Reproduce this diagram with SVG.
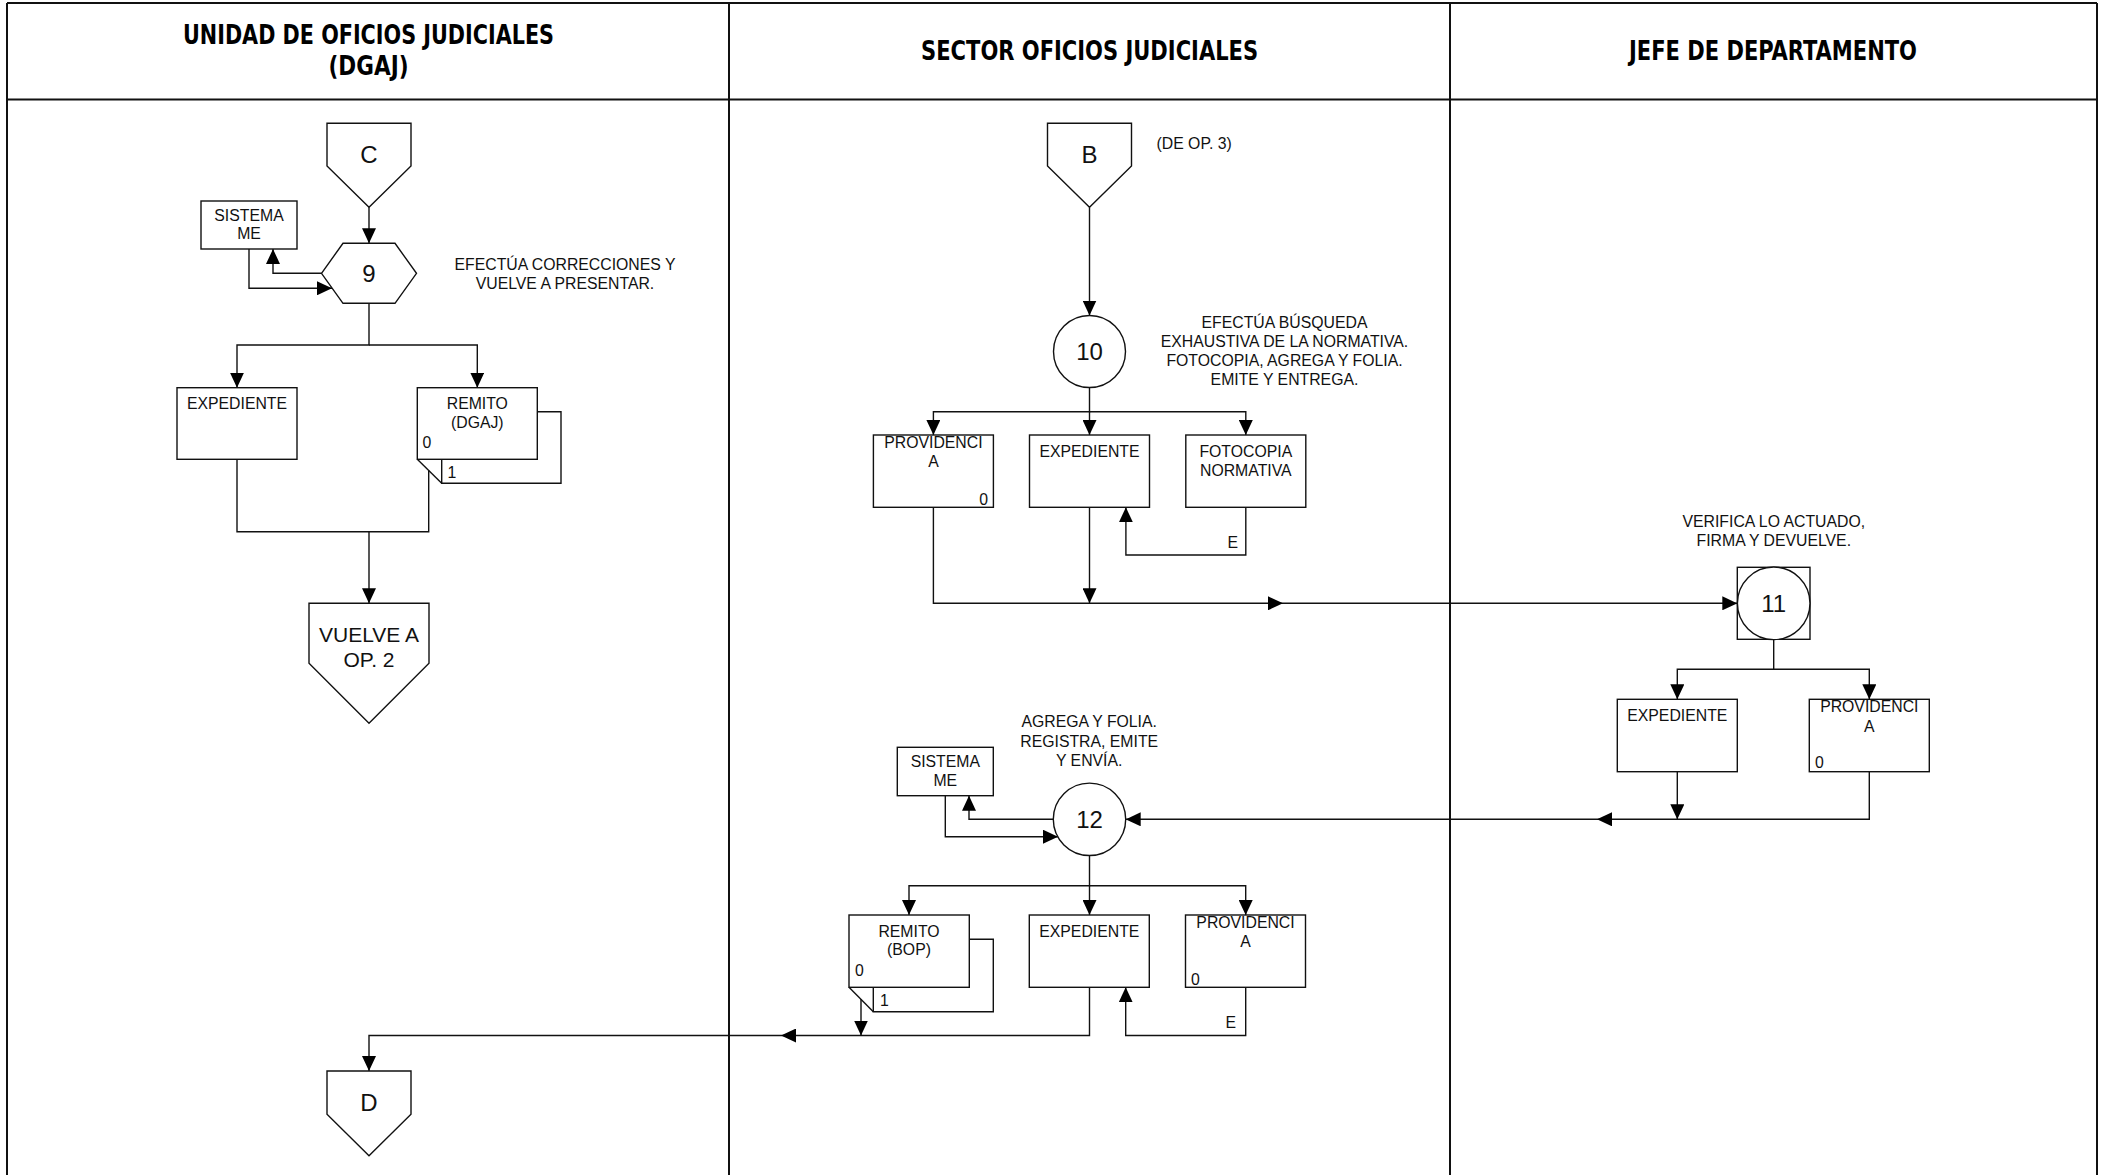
<svg xmlns="http://www.w3.org/2000/svg" width="2109" height="1175" viewBox="0 0 2109 1175">
<style>
.frame{fill:none;stroke:#111;stroke-width:2}
.sh{fill:#fff;stroke:#111;stroke-width:1.4}
.ln{fill:none;stroke:#111;stroke-width:1.4}
.arr{fill:none;stroke:#111;stroke-width:1.4;marker-end:url(#ah)}
.hd{font-family:'Liberation Sans Narrow','DejaVu Sans Condensed','Liberation Sans',sans-serif;font-weight:bold;font-size:27px;text-anchor:middle;fill:#000}
.t{font-family:'Liberation Sans',Arial,sans-serif;font-size:15.8px;text-anchor:middle;fill:#111}
.ts{font-family:'Liberation Sans',Arial,sans-serif;font-size:15.8px;fill:#111}
.te{font-family:'Liberation Sans',Arial,sans-serif;font-size:15.8px;text-anchor:end;fill:#111}
.big{font-family:'Liberation Sans',Arial,sans-serif;font-size:24px;text-anchor:middle;fill:#111}
.mid{font-family:'Liberation Sans',Arial,sans-serif;font-size:21px;text-anchor:middle;fill:#111}
</style>
<defs>
<marker id="ah" markerUnits="userSpaceOnUse" markerWidth="15" markerHeight="14" refX="15" refY="7" orient="auto">
<path d="M0,0 L15,7 L0,14 z" fill="#000"/>
</marker>
</defs>
<rect x="0" y="0" width="2109" height="1175" fill="#fff"/>
<g id="frame">
<line class="frame" x1="7" y1="3" x2="2097" y2="3"/>
<line class="frame" x1="7" y1="3" x2="7" y2="1175"/>
<line class="frame" x1="2097" y1="3" x2="2097" y2="1175"/>
<line class="frame" x1="729" y1="3" x2="729" y2="1175"/>
<line class="frame" x1="1450" y1="3" x2="1450" y2="1175"/>
<line class="frame" x1="7" y1="99.5" x2="2097" y2="99.5"/>
<text class="hd" x="368.5" y="44" textLength="371" lengthAdjust="spacingAndGlyphs">UNIDAD DE OFICIOS JUDICIALES</text>
<text class="hd" x="368.5" y="75" textLength="80" lengthAdjust="spacingAndGlyphs">(DGAJ)</text>
<text class="hd" x="1089.6" y="60" textLength="337" lengthAdjust="spacingAndGlyphs">SECTOR OFICIOS JUDICIALES</text>
<text class="hd" x="1773" y="60" textLength="288" lengthAdjust="spacingAndGlyphs">JEFE DE DEPARTAMENTO</text>
</g>
<g id="connectors">
<path class="arr" d="M369,207.3 V243.3"/>
<path class="arr" d="M321.5,273.3 H273 V249"/>
<path class="arr" d="M249,249 V288.3 H332"/>
<path class="arr" d="M369,303.3 V345 H237 V387.7"/>
<path class="arr" d="M369,345 H477.3 V387.7"/>
<path class="ln" d="M237,459.3 V531.7 H428.7 V470.5"/>
<path class="arr" d="M369,531.7 V603.3"/>
<path class="arr" d="M1089.5,207.3 V315.5"/>
<path class="arr" d="M1089.5,387.5 V411.7 H933.4 V435"/>
<path class="arr" d="M1089.5,411.7 V435"/>
<path class="arr" d="M1089.5,411.7 H1245.8 V435"/>
<path class="arr" d="M1245.8,507.3 V555 H1125.9 V507.3"/>
<path class="arr" d="M1089.5,507.3 V603.3"/>
<path class="arr" d="M933.4,507.3 V603.3 H1283"/>
<path class="arr" d="M1283,603.3 H1737.3"/>
<path class="arr" d="M1773.7,639.3 V669.3 H1677.3 V699.3"/>
<path class="arr" d="M1773.7,669.3 H1869.3 V699.3"/>
<path class="arr" d="M1677.3,771.7 V819.3"/>
<path class="arr" d="M1869.3,771.7 V819.3 H1597"/>
<path class="arr" d="M1597,819.3 H1125.7"/>
<path class="arr" d="M1053.3,819.3 H969 V795.7"/>
<path class="arr" d="M945.3,795.7 V836.7 H1058"/>
<path class="arr" d="M1089.5,855.5 V885.7 H909 V915"/>
<path class="arr" d="M1089.5,885.7 V915"/>
<path class="arr" d="M1089.5,885.7 H1245.7 V915"/>
<path class="arr" d="M1245.7,987.3 V1035.5 H1125.7 V987.3"/>
<path class="arr" d="M1089.5,987.3 V1035.5 H781"/>
<path class="arr" d="M781,1035.5 H369 V1071"/>
<path class="arr" d="M861,999.3 V1035.5"/>
</g>
<g id="conn-C">
<polygon class="sh" points="327,123.3 411,123.3 411,166 369,207.3 327,166"/>
<text class="big" x="369" y="163">C</text>
</g>
<g id="op9">
<polygon class="sh" points="321.5,273.3 343,243.3 395,243.3 416.5,273.3 395,303.3 343,303.3"/>
<text class="big" x="369" y="282">9</text>
</g>
<text class="t" x="565" y="270">EFECTÚA CORRECCIONES Y</text>
<text class="t" x="565" y="289">VUELVE A PRESENTAR.</text>
<g id="sistema1">
<rect class="sh" x="201" y="201" width="96" height="48"/>
<text class="t" x="249" y="220.5">SISTEMA</text>
<text class="t" x="249" y="239">ME</text>
</g>
<g id="expediente1">
<rect class="sh" x="177" y="387.7" width="120" height="71.6"/>
<text class="t" x="237" y="409.3">EXPEDIENTE</text>
</g>
<g id="remito-dgaj">
<path class="sh" d="M537.3,411.7 H561 V483.3 H441.7 V459.3"/>
<rect class="sh" x="417.3" y="387.7" width="120" height="71.6"/>
<path class="ln" d="M417.3,459.3 L441.7,483.3"/>
<text class="t" x="477.3" y="409.3">REMITO</text>
<text class="t" x="477.3" y="428">(DGAJ)</text>
<text class="ts" x="422.5" y="447.7">0</text>
<text class="ts" x="447.5" y="478.3">1</text>
</g>
<g id="vuelve">
<polygon class="sh" points="309,603.3 429,603.3 429,663.3 369,723.3 309,663.3"/>
<text class="mid" x="369" y="641.7">VUELVE A</text>
<text class="mid" x="369" y="667.3">OP. 2</text>
</g>
<g id="conn-D">
<polygon class="sh" points="327,1071 411,1071 411,1114.3 369,1155.7 327,1114.3"/>
<text class="big" x="369" y="1111">D</text>
</g>
<g id="conn-B">
<polygon class="sh" points="1047.5,123.3 1131.5,123.3 1131.5,166 1089.5,207.3 1047.5,166"/>
<text class="big" x="1089.5" y="163">B</text>
</g>
<text class="ts" x="1156.5" y="149">(DE OP. 3)</text>
<g id="op10">
<circle class="sh" cx="1089.5" cy="351.5" r="36"/>
<text class="big" x="1089.5" y="360">10</text>
</g>
<text class="t" x="1284.5" y="327.5">EFECTÚA BÚSQUEDA</text>
<text class="t" x="1284.5" y="346.7">EXHAUSTIVA DE LA NORMATIVA.</text>
<text class="t" x="1284.5" y="365.9">FOTOCOPIA, AGREGA Y FOLIA.</text>
<text class="t" x="1284.5" y="385.1">EMITE Y ENTREGA.</text>
<g id="providencia10">
<rect class="sh" x="873.4" y="435" width="120" height="72.3"/>
<text class="t" x="933.4" y="448.3">PROVIDENCI</text>
<text class="t" x="933.4" y="466.7">A</text>
<text class="te" x="988" y="505">0</text>
</g>
<g id="expediente10">
<rect class="sh" x="1029.5" y="435" width="120" height="72.3"/>
<text class="t" x="1089.5" y="457.3">EXPEDIENTE</text>
</g>
<g id="fotocopia">
<rect class="sh" x="1185.8" y="435" width="120" height="72.3"/>
<text class="t" x="1245.8" y="457.3">FOTOCOPIA</text>
<text class="t" x="1245.8" y="476">NORMATIVA</text>
</g>
<text class="te" x="1238" y="548.3">E</text>
<g id="op11">
<rect class="sh" x="1737.3" y="567.3" width="72.7" height="72"/>
<circle class="sh" cx="1773.7" cy="603.3" r="36.3"/>
<text class="big" x="1773.7" y="612">11</text>
</g>
<text class="t" x="1773.8" y="526.7">VERIFICA LO ACTUADO,</text>
<text class="t" x="1773.8" y="546">FIRMA Y DEVUELVE.</text>
<g id="expediente11">
<rect class="sh" x="1617.3" y="699.3" width="120" height="72.4"/>
<text class="t" x="1677.3" y="721">EXPEDIENTE</text>
</g>
<g id="providencia11">
<rect class="sh" x="1809.3" y="699.3" width="120" height="72.4"/>
<text class="t" x="1869.3" y="712.3">PROVIDENCI</text>
<text class="t" x="1869.3" y="731.7">A</text>
<text class="ts" x="1815" y="767.7">0</text>
</g>
<g id="op12">
<circle class="sh" cx="1089.5" cy="819.3" r="36.2"/>
<text class="big" x="1089.5" y="828">12</text>
</g>
<text class="t" x="1089.2" y="727.3">AGREGA Y FOLIA.</text>
<text class="t" x="1089.2" y="746.5">REGISTRA, EMITE</text>
<text class="t" x="1089.2" y="765.7">Y ENVÍA.</text>
<g id="sistema12">
<rect class="sh" x="897.3" y="747.3" width="96" height="48.4"/>
<text class="t" x="945.3" y="766.7">SISTEMA</text>
<text class="t" x="945.3" y="786">ME</text>
</g>
<g id="remito-bop">
<path class="sh" d="M969.3,939.3 H993.3 V1011.7 H873.3 V987.3"/>
<rect class="sh" x="849" y="915" width="120.3" height="72.3"/>
<path class="ln" d="M849,987.3 L873.3,1011.7"/>
<text class="t" x="909" y="936.7">REMITO</text>
<text class="t" x="909" y="955">(BOP)</text>
<text class="ts" x="855" y="975.7">0</text>
<text class="ts" x="880" y="1006">1</text>
</g>
<g id="expediente12">
<rect class="sh" x="1029.3" y="915" width="120" height="72.3"/>
<text class="t" x="1089.3" y="936.7">EXPEDIENTE</text>
</g>
<g id="providencia12">
<rect class="sh" x="1185.5" y="915" width="120" height="72.3"/>
<text class="t" x="1245.5" y="928.3">PROVIDENCI</text>
<text class="t" x="1245.5" y="947.3">A</text>
<text class="ts" x="1191" y="985">0</text>
</g>
<text class="te" x="1236" y="1028.3">E</text>
</svg>
